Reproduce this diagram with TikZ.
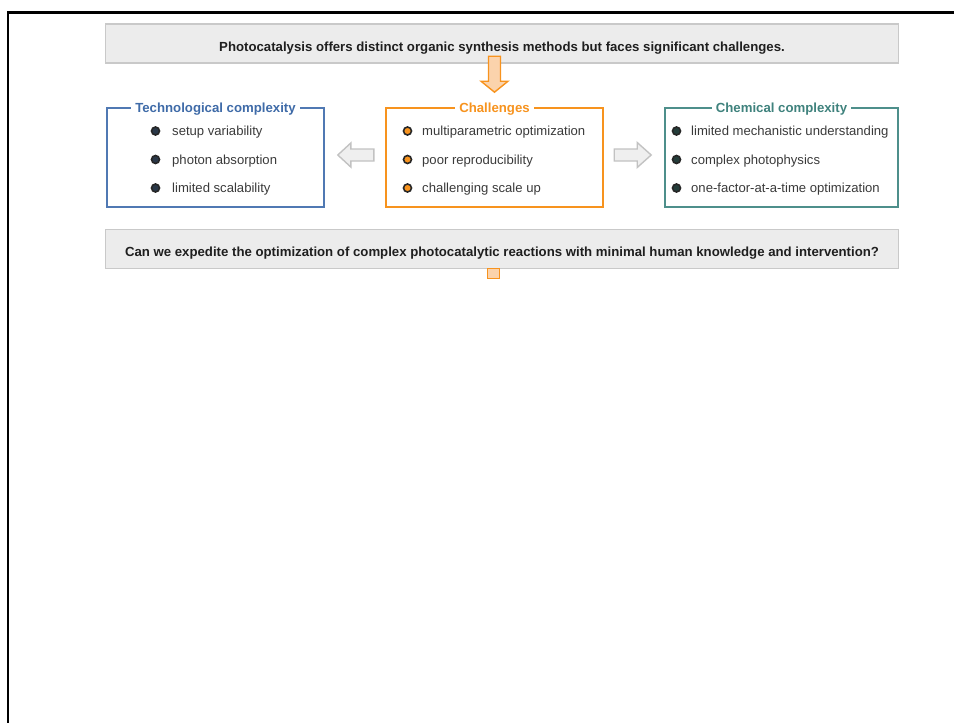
\documentclass[tikz,border=0pt]{standalone}
\usepackage{fontspec}
\setmainfont{Liberation Sans}
\usetikzlibrary{calc}

\definecolor{techblue}{HTML}{5079B3}
\definecolor{techtitle}{HTML}{3F6BA8}
\definecolor{chalorange}{HTML}{F7931E}
\definecolor{chalfill}{HTML}{FBD3AC}
\definecolor{chemteal}{HTML}{4E8F8B}
\definecolor{chemtitle}{HTML}{3F827D}
\definecolor{bannerfill}{HTML}{ECECEC}
\definecolor{bannerline}{HTML}{C9C9C9}
\definecolor{grayarrowfill}{HTML}{EFEFEF}
\definecolor{grayarrowline}{HTML}{C2C2C2}
\definecolor{itemtext}{HTML}{3A3A3A}
\definecolor{dotdark}{HTML}{2A3848}
\definecolor{dotteal}{HTML}{243D3A}

\tikzset{
  banner/.style={draw=bannerline, fill=bannerfill, line width=1.6pt,
    minimum width=793pt, minimum height=39pt, inner sep=0pt,
    text height=17pt, text depth=2pt,
    text=black!88, font=\bfseries\fontsize{13.2}{15}\selectfont},
  panel/.style={draw=#1, line width=1.6pt, minimum height=99pt, inner sep=0pt},
  paneltitle/.style={fill=white, text=#1, inner xsep=4pt, inner ysep=1pt,
    yshift=-1.5pt, font=\bfseries\fontsize{13.2}{15}\selectfont},
  item/.style={anchor=west, inner sep=0pt, text=itemtext, yshift=-1.5pt,
    font=\fontsize{13.1}{15}\selectfont},
  dot/.style={circle, draw=black!85, line width=1.6pt, fill=#1,
    minimum size=8pt, inner sep=0pt},
  orangearrow/.style={draw=chalorange, fill=chalfill, line width=1.4pt, line join=miter},
  grayarrow/.style={draw=grayarrowline, fill=grayarrowfill, line width=1.4pt, line join=miter},
}

\begin{document}
\begin{tikzpicture}[x=1pt, y=-1pt]
\useasboundingbox (0,0) rectangle (954,723);

% frame along the top and left edges
\draw[black, line width=2.5pt] (954,12.5) -- (8,12.5) -- (8,723);

% top statement
\node[banner] (top) at (502,43.5)
  {Photocatalysis offers distinct organic synthesis methods but faces significant challenges.};

% three panels
\node[panel=techblue, minimum width=217pt] (tech) at (215.5,157.5) {};
\node[panel=chalorange, minimum width=217pt] (chal) at (494.5,157.5) {};
\node[panel=chemteal, minimum width=233pt] (chem) at (781.5,157.5) {};

\node[paneltitle=techtitle] (techT) at (tech.north) {Technological complexity};
\node[paneltitle=chalorange] (chalT) at (chal.north) {Challenges};
\node[paneltitle=chemtitle] (chemT) at (chem.north) {Chemical complexity};

% technological complexity items
\node[dot=dotdark] (t1d) at (155.5,131) {};
\node[dot=dotdark] (t2d) at (155.5,159.5) {};
\node[dot=dotdark] (t3d) at (155.5,188) {};
\node[item] (t1) at (172,131) {setup variability};
\node[item] (t2) at (172,159.5) {photon absorption};
\node[item] (t3) at (172,188) {limited scalability};

% challenges items
\node[dot=chalorange] (c1d) at (407.5,131) {};
\node[dot=chalorange] (c2d) at (407.5,159.5) {};
\node[dot=chalorange] (c3d) at (407.5,188) {};
\node[item] (c1) at (422,131) {multiparametric optimization};
\node[item] (c2) at (422,159.5) {poor reproducibility};
\node[item] (c3) at (422,188) {challenging scale up};

% chemical complexity items
\node[dot=dotteal] (m1d) at (676.5,131) {};
\node[dot=dotteal] (m2d) at (676.5,159.5) {};
\node[dot=dotteal] (m3d) at (676.5,188) {};
\node[item] (m1) at (691,131) {limited mechanistic understanding};
\node[item] (m2) at (691,159.5) {complex photophysics};
\node[item] (m3) at (691,188) {one-factor-at-a-time optimization};

% block arrows
\draw[orangearrow] ($(chal.north)+(-6,-51)$) -- ++(12,0) -- ++(0,25) -- ++(7.5,0)
  -- ++(-13.5,11) -- ++(-13.5,-11) -- ++(7.5,0) -- cycle;
\draw[grayarrow] ($(tech.east)+(13,-2.5)$) -- ++(13,-12) -- ++(0,6) -- ++(23,0)
  -- ++(0,12) -- ++(-23,0) -- ++(0,6) -- cycle;
\draw[grayarrow] ($(chem.west)+(-13,-2.5)$) -- ++(-14,-12.5) -- ++(0,6.5) -- ++(-23,0)
  -- ++(0,12) -- ++(23,0) -- ++(0,6.5) -- cycle;

% bottom question
\node[banner] (bottom) at (502,249)
  {Can we expedite the optimization of complex photocatalytic reactions with minimal human knowledge and intervention?};

% start of the next arrow below the question
\node[draw=chalorange, fill=chalfill, line width=1.4pt, minimum width=12pt,
  minimum height=10pt, inner sep=0pt] (stub) at (493.5,273.5) {};

\end{tikzpicture}
\end{document}
